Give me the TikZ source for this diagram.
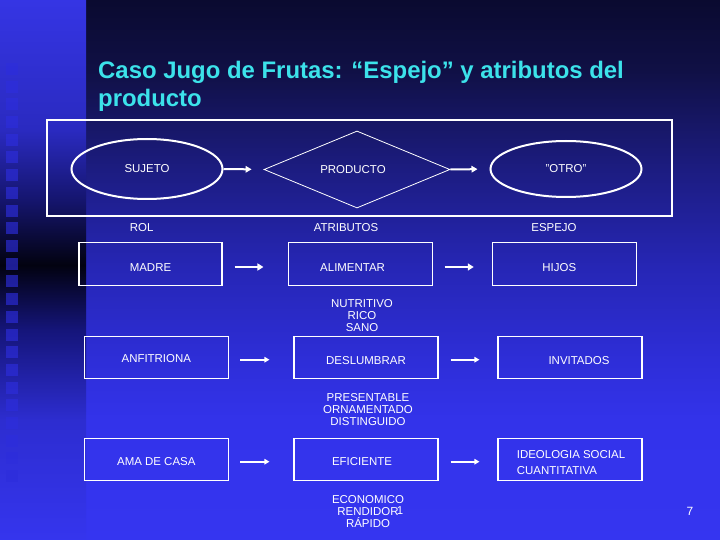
\documentclass[tikz,border=0pt]{standalone}
\usepackage{fontspec}
\setmainfont{Liberation Sans}
\usetikzlibrary{shapes.geometric,arrows.meta}
\definecolor{titlecyan}{RGB}{60,226,234}
\definecolor{sqblue}{RGB}{45,45,220}
\pgfdeclareverticalshading{rightbg}{100bp}{rgb(0bp)=(0.208,0.208,0.941); rgb(25bp)=(0.208,0.208,0.941); rgb(36.11bp)=(0.2,0.2,0.918); rgb(41.67bp)=(0.18,0.18,0.847); rgb(50.28bp)=(0.149,0.149,0.71); rgb(59.44bp)=(0.11,0.11,0.502); rgb(68.52bp)=(0.063,0.063,0.271); rgb(75bp)=(0.039,0.039,0.188); rgb(100bp)=(0.039,0.039,0.188)}
\pgfdeclareverticalshading{leftbg}{100bp}{rgb(0bp)=(0.208,0.208,0.933); rgb(25bp)=(0.208,0.208,0.933); rgb(36.11bp)=(0.176,0.176,0.816); rgb(44.44bp)=(0.082,0.082,0.478); rgb(50.46bp)=(0.008,0.008,0.063); rgb(56.48bp)=(0.082,0.082,0.431); rgb(62.96bp)=(0.165,0.165,0.753); rgb(75bp)=(0.208,0.208,0.894); rgb(100bp)=(0.208,0.208,0.894)}
\tikzset{
  lbl/.style={text=white, font=\fontsize{11.5}{12}\selectfont, align=center, inner sep=0pt},
  box/.style={draw=white, line width=1.1bp, minimum width=144bp, minimum height=42.5bp, inner sep=0pt, text=white, font=\fontsize{11.5}{16}\selectfont, align=center},
  tdown/.style={text height=#1, text depth=0pt},
  oval/.style={ellipse, draw=white, line width=2bp, minimum width=151bp, inner sep=0pt, text=white, font=\fontsize{11.5}{12}\selectfont},
  toparr/.style={draw=white, line width=2bp, -{Triangle[length=6bp,width=6.5bp]}},
  arrA/.style={draw=white, line width=2.8bp, -{Triangle[length=6bp,width=7bp]}},
  arrB/.style={draw=white, line width=1.8bp, -{Triangle[length=5bp,width=5.5bp]}},
  ttl/.style={text=titlecyan, font=\fontsize{24}{28}\selectfont\bfseries, inner sep=0pt, anchor=base west}
}
\begin{document}
\begin{tikzpicture}[x=1bp,y=-1bp]
\useasboundingbox (0,0) rectangle (720,540);
% background
\shade[shading=rightbg] (86,0) rectangle (720,540);
\shade[shading=leftbg] (0,0) rectangle (86,540);
\foreach \k in {0,...,23} \fill[sqblue, opacity=0.65] (6,{63+17.7*\k}) rectangle ++(12,12);
% title
\node[ttl] (title1) at (98,79) {Caso Jugo de Frutas: “Espejo” y atributos del};
\node[ttl] (title2) at (98,107) {producto};
% top frame
\node[draw=white, line width=2.5bp, minimum width=625bp, minimum height=96bp, inner sep=0pt] (frame) at (359.5,168) {};
\node[oval, minimum height=60bp] (sujeto) at (147,169) {SUJETO};
\node[diamond, draw=white, line width=0.8bp, aspect=2.4, minimum width=186bp, minimum height=77bp, inner sep=0pt, text=white, font=\fontsize{11.5}{12}\selectfont] (producto) at (357,169.5) {PRODUCTO\hspace*{8bp}};
\node[oval, minimum height=56bp] (otro) at (566,169) {\symbol{34}OTRO\symbol{34}};
\draw[toparr, shorten >=12bp] (sujeto.east) -- (producto.west);
\draw[toparr, shorten >=12bp] (producto.east) -- (otro.west);
% column headings
\node[lbl] (rol) at (141.7,227.5) {ROL};
\node[lbl] (atrib) at (346,227.5) {ATRIBUTOS};
\node[lbl] (espejo) at (554,227.5) {ESPEJO};
% row 1
\node[box, tdown=15.5bp, minimum width=143bp] (madre) at (150.5,264) {MADRE};
\node[box, tdown=15.5bp] (alimentar) at (360.6,264) {ALIMENTAR\hspace*{16bp}};
\node[box, tdown=15.5bp] (hijos) at (564.3,264) {HIJOS\hspace*{10bp}};
\draw[arrA, shorten <=12bp, shorten >=24.6bp] ([yshift=-3bp]madre.east) -- ([yshift=-3bp]alimentar.west);
\draw[arrA, shorten <=11.4bp, shorten >=18bp] ([yshift=-3bp]alimentar.east) -- ([yshift=-3bp]hijos.west);
\node[lbl] (attr1) at (362,315.5) {NUTRITIVO\\RICO\\SANO};
% row 2
\node[box, tdown=10.7bp] (anfitriona) at (156.3,357.3) {ANFITRIONA};
\node[box, tdown=14.9bp] (deslumbrar) at (366,357.3) {DESLUMBRAR};
\node[box, tdown=14.9bp] (invitados) at (570,357.3) {\hspace*{18bp}INVITADOS};
\draw[arrB, shorten <=11.4bp, shorten >=24bp] ([yshift=-2.4bp]anfitriona.east) -- ([yshift=-2.4bp]deslumbrar.west);
\draw[arrB, shorten <=12bp, shorten >=18bp] ([yshift=-2.4bp]deslumbrar.east) -- ([yshift=-2.4bp]invitados.west);
\node[lbl] (attr2) at (368,409.5) {PRESENTABLE\\ORNAMENTADO\\DISTINGUIDO};
% row 3
\node[box, tdown=11.3bp] (ama) at (156.3,459.5) {AMA DE CASA};
\node[box, tdown=11.3bp] (eficiente) at (366,459.5) {EFICIENTE\hspace*{8bp}};
\node[box] (ideologia) at (570,459.5) {};
\node[lbl, align=left, font=\fontsize{11.5}{16}\selectfont] (ideotext) at (571,462.2) {IDEOLOGIA SOCIAL\\CUANTITATIVA};
\draw[arrB, shorten <=11.4bp, shorten >=24bp] ([yshift=-2.2bp]ama.east) -- ([yshift=-2.2bp]eficiente.west);
\draw[arrB, shorten <=12bp, shorten >=18bp] ([yshift=-2.2bp]eficiente.east) -- ([yshift=-2.2bp]ideologia.west);
\node[lbl] (attr3) at (368,511.5) {ECONOMICO\\RENDIDOR\\RÁPIDO};
\node[lbl] (one) at (400,511) {1};
% page number
\node[lbl, font=\fontsize{12}{12}\selectfont] (pagenum) at (690,511) {7};
\end{tikzpicture}
\end{document}
